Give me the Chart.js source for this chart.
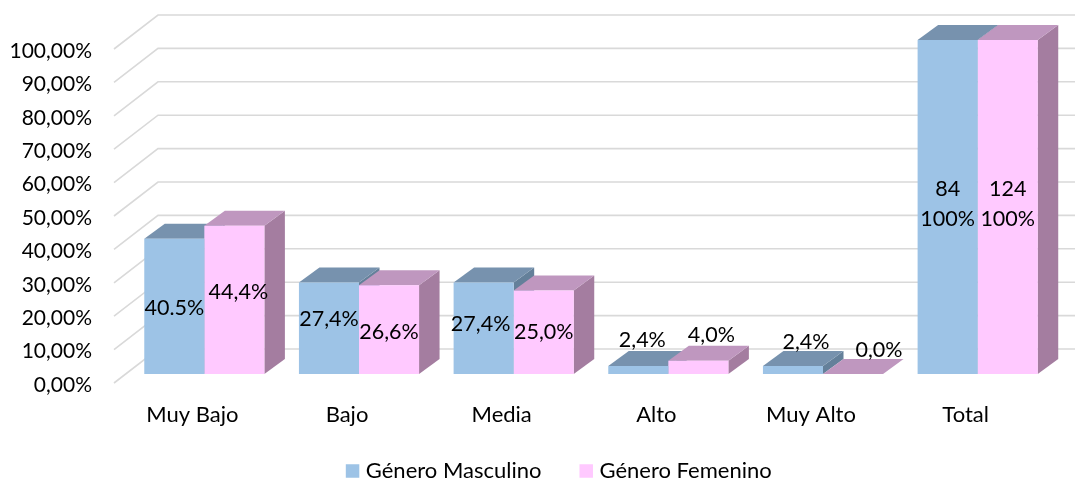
<!DOCTYPE html>
<html>
<head>
<meta charset="utf-8">
<style>
    html, body { margin: 0; padding: 0; background: #ffffff; }
    canvas { display: block; }
</style>
<script src="https://cdn.jsdelivr.net/npm/chart.js@4/dist/chart.umd.js"></script>
</head>
<body>
<canvas id="Main_Chart" width="1075" height="479"></canvas>
<script>
const Categories = ["Muy Bajo", "Bajo", "Media", "Alto", "Muy Alto", "Total"];
const Series_Names = ["Género Masculino", "Género Femenino"];
const Masculino_Values = [40.5, 27.4, 27.4, 2.4, 2.4, 100];
const Femenino_Values = [44.4, 26.6, 25.0, 4.0, 0.0, 100];
const Masculino_Labels = ["40.5%", "27,4%", "27,4%", "2,4%", "2,4%", ["84", "100%"]];
const Femenino_Labels = ["44,4%", "26,6%", "25,0%", "4,0%", "0,0%", ["124", "100%"]];

// hand placed labels in the original, offsets from the middle of each bar
const Masculino_Nudges = [[0, 2], [0, -9], [-3, -4], [4, -30], [13, -28], [0, -3]];
const Femenino_Nudges = [[4, -8], [0, 2], [0, 0], [13, -32], [26, -24], [0, -3]];

const Font_Name = "Lato, Carlito, sans-serif";
const Text_Color = "#000000";
const Grid_Color = "#d9d9d9";
const Fronts = ["#9dc3e6", "#ffc9ff"];
const Tops = ["#7792ae", "#bf97bf"];
const Sides = ["#64809a", "#a47da0"];

// 3D look: bar depth, and where the walls sit against the bar plane
const Bar_Dx = 20.5, Bar_Dy = 15;
const Wall_Front_Dx = -13, Wall_Front_Dy = 9;
const Wall_Back_Dx = 31, Wall_Back_Dy = -25;

const Bottom_Overflow = 50;

function Fill_Poly(Ctx, Color, Pts) {
    Ctx.fillStyle = Color;
    Ctx.beginPath();
    Ctx.moveTo(Pts[0][0], Pts[0][1]);
    for (let i = 1; i < Pts.length; i++) Ctx.lineTo(Pts[i][0], Pts[i][1]);
    Ctx.closePath();
    Ctx.fill();
}

const Box_Plugin = {
    id: "box3d",
    afterLayout(Chart_Obj) {
        // the legend sits off centre and low in the original
        const Legend = Chart_Obj.legend;
        Legend.left += 33.5;
        Legend.right += 33.5;
        Legend.top = 417.5;
    },
    beforeDatasetsDraw(Chart_Obj) {
        const Ctx = Chart_Obj.ctx;
        const Y_Scale = Chart_Obj.scales.y;
        const Left = Chart_Obj.chartArea.left;

        Ctx.save();
        Ctx.strokeStyle = Grid_Color;
        Ctx.lineWidth = 1.6;
        Y_Scale.ticks.forEach(function (Tick) {
            const Y = Y_Scale.getPixelForValue(Tick.value);
            Ctx.beginPath();
            Ctx.moveTo(Left + Wall_Front_Dx, Y + Wall_Front_Dy);
            Ctx.lineTo(Left + Wall_Back_Dx, Y + Wall_Back_Dy);
            Ctx.lineTo(Chart_Obj.width, Y + Wall_Back_Dy);
            Ctx.stroke();
        });

        Chart_Obj.data.datasets.forEach(function (Set, Set_Index) {
            Chart_Obj.getDatasetMeta(Set_Index).data.forEach(function (Bar) {
                const X0 = Bar.x - Bar.width / 2;
                const X1 = Bar.x + Bar.width / 2;
                Fill_Poly(Ctx, Sides[Set_Index], [
                    [X1, Bar.y], [X1 + Bar_Dx, Bar.y - Bar_Dy],
                    [X1 + Bar_Dx, Bar.base - Bar_Dy], [X1, Bar.base]
                ]);
                Fill_Poly(Ctx, Tops[Set_Index], [
                    [X0, Bar.y], [X1, Bar.y],
                    [X1 + Bar_Dx, Bar.y - Bar_Dy], [X0 + Bar_Dx, Bar.y - Bar_Dy]
                ]);
            });
        });
        Ctx.restore();
    },
    afterDatasetsDraw(Chart_Obj) {
        const Ctx = Chart_Obj.ctx;
        const All_Labels = [Masculino_Labels, Femenino_Labels];
        const All_Nudges = [Masculino_Nudges, Femenino_Nudges];
        Ctx.save();
        Ctx.font = "21.5px " + Font_Name;
        Ctx.fillStyle = "#000000";
        Ctx.textAlign = "center";
        Ctx.textBaseline = "middle";
        All_Labels.forEach(function (Labels, Set_Index) {
            Chart_Obj.getDatasetMeta(Set_Index).data.forEach(function (Bar, i) {
                const Lines = [].concat(Labels[i]);
                const X = Bar.x + All_Nudges[Set_Index][i][0];
                const Y = (Bar.y + Bar.base) / 2 + All_Nudges[Set_Index][i][1];
                Lines.forEach(function (Line, n) {
                    Ctx.fillText(Line, X, Y + (n - (Lines.length - 1) / 2) * 30);
                });
            });
        });
        Ctx.restore();
    }
};

new Chart(document.getElementById("Main_Chart"), {
    type: "bar",
    data: {
        labels: Categories,
        datasets: [
            { label: Series_Names[0], data: Masculino_Values, backgroundColor: Fronts[0] },
            { label: Series_Names[1], data: Femenino_Values, backgroundColor: Fronts[1] }
        ]
    },
    options: {
        responsive: false,
        animation: false,
        layout: { autoPadding: false, padding: { top: 40, right: 20, bottom: -Bottom_Overflow } },
        categoryPercentage: 0.7767,
        barPercentage: 1,
        scales: {
            x: {
                grid: { display: false, drawTicks: false },
                border: { display: false },
                ticks: {
                    color: Text_Color,
                    font: { family: Font_Name, size: 22 },
                    labelOffset: -12,
                    padding: 28,
                    maxRotation: 0,
                    autoSkip: false
                },
                afterFit(Scale) { Scale.height = 479 - 374 + Bottom_Overflow - Scale.chart.legend.height; }
            },
            y: {
                min: 0,
                max: 100,
                grid: { display: false, drawTicks: false },
                border: { display: false },
                ticks: {
                    stepSize: 10,
                    color: Text_Color,
                    font: { family: Font_Name, size: 21 },
                    labelOffset: 11,
                    padding: 35,
                    callback: function (Value) { return Value.toFixed(2).replace(".", ",") + "%"; }
                },
                afterFit(Scale) { Scale.width = 127; Scale.paddingTop = 0; Scale.paddingBottom = 0; }
            }
        },
        plugins: {
            tooltip: { enabled: false },
            legend: {
                position: "bottom",
                labels: {
                    color: Text_Color,
                    font: { family: Font_Name, size: 22 },
                    boxWidth: 4.5,
                    boxHeight: 4.5,
                    padding: 42.5,
                    // thick stroke grows the swatch, keeps the text close to it
                    generateLabels(Chart_Obj) {
                        const Items = Chart.defaults.plugins.legend.labels.generateLabels(Chart_Obj);
                        Items.forEach(function (Item) {
                            Item.lineWidth = 9;
                            Item.strokeStyle = Item.fillStyle;
                        });
                        return Items;
                    }
                }
            }
        }
    },
    plugins: [Box_Plugin]
});
</script>
</body>
</html>
